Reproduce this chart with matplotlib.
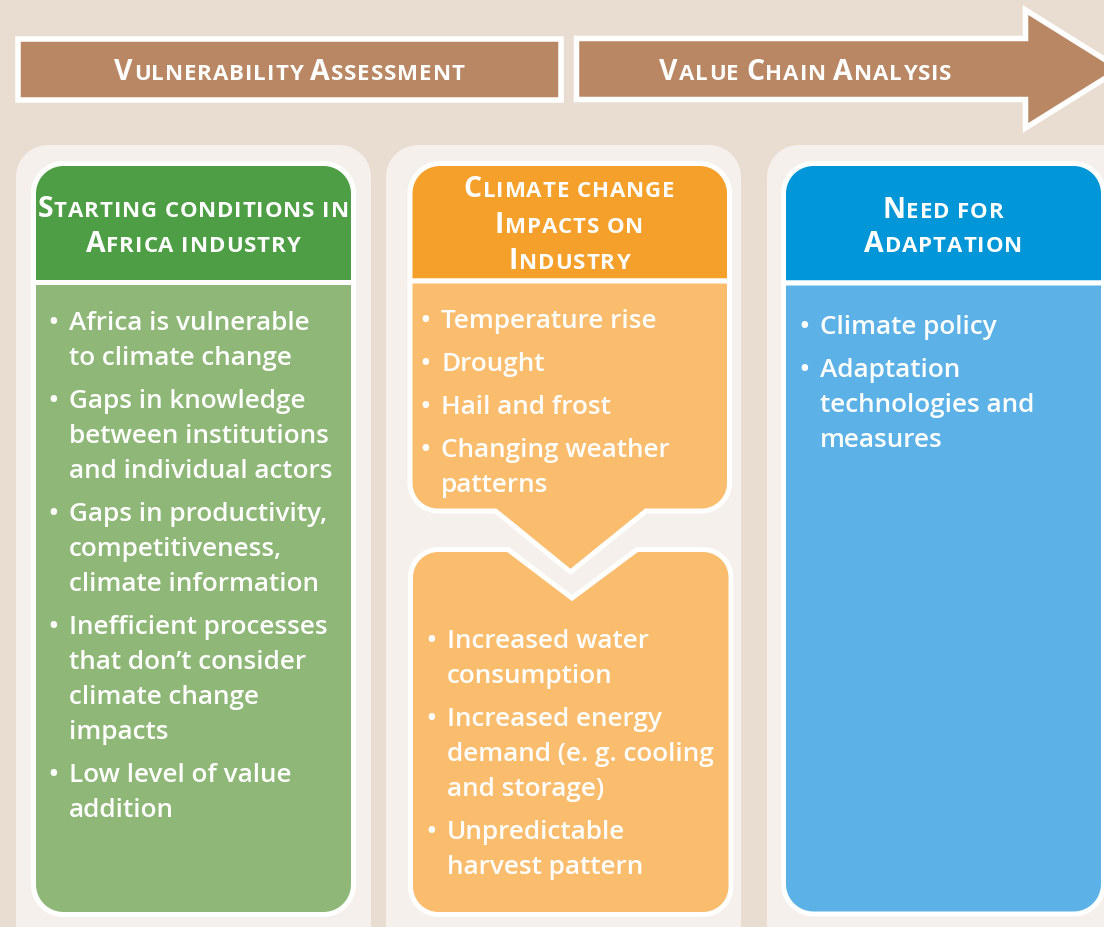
import matplotlib
matplotlib.use("Agg")
import matplotlib.pyplot as plt
from matplotlib.patches import Polygon
import numpy as np

# ---------------- data ----------------
stage_labels = ["Vulnerability Assessment", "Value Chain Analysis"]

col_titles = [
    ["Starting conditions in", "Africa industry"],
    ["Climate change", "Impacts on", "Industry"],
    ["Need for", "Adaptation"],
]

green_items = [
    ["Africa is vulnerable", "to climate change"],
    ["Gaps in knowledge", "between institutions", "and individual actors"],
    ["Gaps in productivity,", "competitiveness,", "climate information"],
    ["Inefficient processes", "that don\u2019t consider", "climate change", "impacts"],
    ["Low level of value", "addition"],
]
orange_top_items = [
    ["Temperature rise"],
    ["Drought"],
    ["Hail and frost"],
    ["Changing weather", "patterns"],
]
orange_bottom_items = [
    ["Increased water", "consumption"],
    ["Increased energy", "demand (e. g. cooling", "and storage)"],
    ["Unpredictable", "harvest pattern"],
]
blue_items = [
    ["Climate policy"],
    ["Adaptation", "technologies and", "measures"],
]

# ---------------- style ----------------
BG = "#E9DDD2"
PANEL = "#F5F0EB"
BROWN = "#B98763"
GREEN_H, GREEN_B = "#4E9E45", "#8FB878"
ORANGE_H, ORANGE_B = "#F5A02B", "#FABD6E"
BLUE_H, BLUE_B = "#0096D7", "#5CB2E6"
FAM = ["Open Sans", "DejaVu Sans"]
BODY_SIZE = 18.8
BIG, SMALL = 20.5, 16
TRACK = 0.9
LW_WHITE = 5 * 72 / 100  # 5 px

W, H = 1104, 927
fig = plt.figure(figsize=(W / 100, H / 100), dpi=100)
fig.patch.set_facecolor(BG)
ax = fig.add_axes([0, 0, 1, 1])
ax.set_xlim(0, W)
ax.set_ylim(H, 0)
ax.axis("off")
ax.set_facecolor(BG)


def rounded_poly(verts, radii, n=24):
    verts = [np.array(v, float) for v in verts]
    pts = []
    m = len(verts)
    for i in range(m):
        P = verts[i]
        r = radii[i]
        if r <= 0:
            pts.append(P)
            continue
        A = verts[i - 1]
        B = verts[(i + 1) % m]
        u = (A - P) / np.linalg.norm(A - P)
        v = (B - P) / np.linalg.norm(B - P)
        theta = np.arccos(np.clip(np.dot(u, v), -1, 1))
        d = r / np.tan(theta / 2)
        T1 = P + u * d
        T2 = P + v * d
        bis = (u + v) / np.linalg.norm(u + v)
        C = P + bis * (r / np.sin(theta / 2))
        a1 = np.arctan2(*(T1 - C)[::-1])
        a2 = np.arctan2(*(T2 - C)[::-1])
        diff = (a2 - a1 + np.pi) % (2 * np.pi) - np.pi
        for t in np.linspace(0, 1, n):
            a = a1 + diff * t
            pts.append(C + r * np.array([np.cos(a), np.sin(a)]))
    return np.array(pts)


def shape(verts, radii, face, edge="white", lw=LW_WHITE, z=3):
    pts = rounded_poly(verts, radii)
    p = Polygon(pts, closed=True, facecolor=face, edgecolor=edge if lw > 0 else "none",
                linewidth=lw, joinstyle="miter", zorder=z)
    ax.add_patch(p)


def rect(x0, y0, x1, y1, r=(0, 0, 0, 0)):
    # order: top-left, top-right, bottom-right, bottom-left
    return [(x0, y0), (x1, y0), (x1, y1), (x0, y1)], list(r)


# panels
for (x0, x1) in [(16, 371), (386, 741), (767, 1150)]:
    v, r = rect(x0, 145, x1, 980, (32, 32, 32, 32))
    shape(v, r, PANEL, lw=0, z=1)

# top stage bar + arrow
v, r = rect(18, 38.5, 561, 99.5)
shape(v, r, BROWN, lw=5.5 * 0.72, z=2)
arrow = [(576.5, 38.5), (1025.5, 38.5), (1025.5, 10), (1120, 69),
         (1025.5, 128), (1025.5, 99.5), (576.5, 99.5)]
shape(arrow, [0] * 7, BROWN, lw=5.5 * 0.72, z=2)

# green column
v, r = rect(33.5, 163.5, 353.5, 282.5, (30, 30, 0, 0))
shape(v, r, GREEN_H)
v, r = rect(33.5, 282.5, 353.5, 914.5, (0, 0, 30, 30))
shape(v, r, GREEN_B)

# orange column
v, r = rect(410, 163.5, 729.5, 281, (30, 30, 0, 0))
shape(v, r, ORANGE_H)
up = [(410, 281), (729.5, 281), (729.5, 511), (646, 511), (570.5, 572),
      (495.5, 511), (410, 511)]
shape(up, [0, 0, 28, 0, 0, 0, 28], ORANGE_B)
low = [(410.5, 549.5), (508, 549.5), (572, 598), (637, 549.5), (731, 549.5),
       (731, 914.5), (410.5, 914.5)]
shape(low, [28, 0, 0, 0, 28, 28, 28], ORANGE_B)

# blue column
v, r = rect(783.5, 163.5, 1103.5, 283, (30, 30, 0, 0))
shape(v, r, BLUE_H)
v, r = rect(783.5, 283, 1103.5, 914, (0, 0, 30, 30))
shape(v, r, BLUE_B)

fig.canvas.draw()
renderer = fig.canvas.get_renderer()
_wcache = {}


def char_width(s, size):
    key = (s, size)
    if key in _wcache:
        return _wcache[key]
    t = ax.text(0, 0, "|" + s + "|", fontsize=size, fontweight="bold", family=FAM)
    w1 = t.get_window_extent(renderer).width
    t.set_text("||")
    w2 = t.get_window_extent(renderer).width
    t.remove()
    _wcache[key] = w1 - w2
    return w1 - w2


def smallcaps(xc, base, text, big=BIG, small=SMALL, track=TRACK, color="white"):
    glyphs = []
    for ch in text:
        if ch.isupper():
            glyphs.append((ch, big))
        else:
            glyphs.append((ch.upper(), small))
    widths = [char_width(c, sz) + track for c, sz in glyphs]
    total = sum(widths) - track
    x = xc - total / 2
    for (c, sz), w in zip(glyphs, widths):
        if c != " ":
            ax.text(x, base, c, fontsize=sz, fontweight="bold", family=FAM,
                    color=color, ha="left", va="baseline", zorder=5)
        x += w


# stage labels
smallcaps(289.5, 80, stage_labels[0])
smallcaps(805.5, 80, stage_labels[1])

# column titles
title_pos = [(193, [217, 252]), (569, [197, 233, 269]), (943, [218, 252])]
for lines, (xc, bases) in zip(col_titles, title_pos):
    for ln, b in zip(lines, bases):
        smallcaps(xc, b, ln)


def bullets(items, x_text, base0, step=35, gap=43):
    y = base0
    for item in items:
        ax.text(x_text - 16, y, "\u2022", fontsize=BODY_SIZE, fontweight="semibold",
                family=FAM, color="white", ha="center", va="baseline", zorder=5)
        for ln in item:
            ax.text(x_text, y, ln, fontsize=BODY_SIZE, fontweight="semibold",
                    family=FAM, color="white", ha="left", va="baseline", zorder=5)
            y += step
        y += gap - step


bullets(green_items, 69, 330)
bullets(orange_top_items, 441, 328)
bullets(orange_bottom_items, 447, 648)
bullets(blue_items, 820, 334)

fig.savefig("out.png", dpi=100, facecolor=BG)
